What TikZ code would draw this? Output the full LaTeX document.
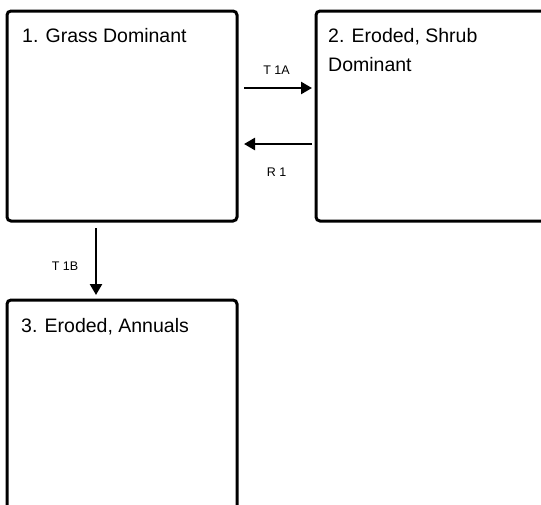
\documentclass[tikz,border=0pt]{standalone}
\usepackage{fontspec}
\setmainfont{Liberation Sans}
\usetikzlibrary{arrows.meta}

\begin{document}
\begin{tikzpicture}[x=1pt,y=-1pt,
    statebox/.style={draw,line width=3pt,rounded corners=4pt,minimum width=230pt,minimum height=210pt,outer sep=0,inner sep=0},
    statetitle/.style={anchor=north west,inner sep=0,align=left,font=\fontsize{19.5}{29}\selectfont},
    trans/.style={-{Triangle[length=11pt,width=12pt]},line width=2.5pt},
    translabel/.style={inner sep=0,font=\fontsize{12.5}{15}\selectfont}]

\useasboundingbox (0,0) rectangle (541,504);
\clip (0,0) rectangle (541,504);

% states

\node (stGrass) at (122,116) [statebox] {};
\node (stShrub) at (431,116) [statebox] {};
\node (stAnnual) at (122,405) [statebox] {};

\node (tiGrass) at ([xshift=15pt,yshift=-17pt]stGrass.north west) [statetitle] {1. Grass Dominant};
\node (tiShrub) at ([xshift=12pt,yshift=-17pt]stShrub.north west) [statetitle] {2. Eroded, Shrub\\Dominant};
\node (tiAnnual) at ([xshift=14pt,yshift=-18pt]stAnnual.north west) [statetitle] {3. Eroded, Annuals};

% transitions

\draw [trans,shorten <=7pt,shorten >=4pt] ([yshift=28pt]stGrass.east) -- ([yshift=28pt]stShrub.west)
    node (lbT1A) [translabel,midway,yshift=18pt] {T 1A};
\draw [trans,shorten <=4pt,shorten >=7pt] ([yshift=-28pt]stShrub.west) -- ([yshift=-28pt]stGrass.east)
    node (lbR1) [translabel,midway,yshift=-28pt] {R 1};
\draw [trans,shorten <=7pt,shorten >=5pt] ([xshift=-26pt]stGrass.south) -- ([xshift=-26pt]stAnnual.north)
    node (lbT1B) [translabel,midway,xshift=-31pt,yshift=-5.5pt] {T 1B};

\end{tikzpicture}
\end{document}
